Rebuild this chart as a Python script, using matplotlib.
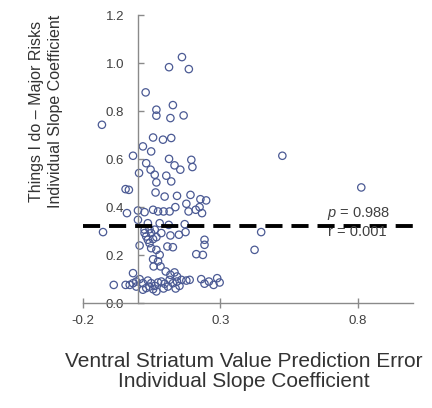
import numpy as np
import matplotlib
matplotlib.use("Agg")
import matplotlib.pyplot as plt

# ==========================================================
# Data: individual slope coefficients per subject
# ==========================================================

vs_slope = [
    0.160, 0.113, 0.185, 0.028, 0.127, 0.067, 0.067, 0.118, 0.166, -0.131,
    0.055, 0.091, 0.121, 0.018, 0.048, -0.018, 0.113, 0.194, 0.030, 0.133,
    0.154, 0.198, 0.046, 0.004, 0.061, 0.103, 0.067, 0.121, -0.045, -0.033,
    0.064, 0.097, 0.142, 0.191, 0.227, 0.248, 0.176, 0.136, 0.210, 0.224,
    0.233, -0.040, 0.000, 0.024, 0.055, 0.073, 0.093, 0.115, 0.184, 0.000,
    0.036, 0.079, 0.112, 0.170, -0.127, 0.024, 0.048, 0.085, 0.118, 0.149,
    0.173, 0.036, 0.055, 0.006, 0.107, 0.127, 0.242, 0.242, 0.067, 0.048,
    0.079, 0.212, 0.236, 0.055, 0.073, 0.082, 0.057, 0.448, 0.424, 0.525,
    0.812, -0.018, 0.101, 0.133, 0.142, 0.118, -0.088, -0.045, -0.030, -0.018,
    -0.006, 0.006, 0.018, 0.036, 0.048, 0.061, 0.073, 0.085, 0.097, 0.115,
    0.127, 0.142, 0.158, 0.176, 0.188, 0.230, 0.242, 0.258, 0.275, 0.288,
    0.297, 0.030, 0.055, 0.093, 0.137, 0.018, 0.067, -0.006, 0.042, 0.109,
    0.151, 0.024, 0.042, 0.061, 0.030, 0.067, 0.042,
]

risk_slope = [
    1.025, 0.983, 0.975, 0.878, 0.825, 0.806, 0.781, 0.771, 0.782, 0.743,
    0.690, 0.681, 0.688, 0.653, 0.632, 0.614, 0.601, 0.597, 0.583, 0.574,
    0.556, 0.567, 0.556, 0.542, 0.535, 0.531, 0.503, 0.507, 0.475, 0.472,
    0.461, 0.444, 0.447, 0.451, 0.433, 0.428, 0.414, 0.400, 0.389, 0.400,
    0.375, 0.375, 0.386, 0.379, 0.389, 0.382, 0.382, 0.382, 0.382, 0.347,
    0.333, 0.333, 0.326, 0.329, 0.296, 0.292, 0.292, 0.292, 0.282, 0.285,
    0.296, 0.264, 0.267, 0.240, 0.236, 0.233, 0.264, 0.243, 0.222, 0.229,
    0.201, 0.204, 0.201, 0.183, 0.174, 0.153, 0.153, 0.296, 0.222, 0.614,
    0.482, 0.125, 0.132, 0.128, 0.111, 0.118, 0.076, 0.076, 0.076, 0.083,
    0.090, 0.100, 0.083, 0.094, 0.083, 0.072, 0.086, 0.090, 0.081, 0.097,
    0.083, 0.090, 0.097, 0.094, 0.097, 0.100, 0.081, 0.090, 0.076, 0.104,
    0.086, 0.063, 0.058, 0.061, 0.061, 0.056, 0.049, 0.069, 0.069, 0.069,
    0.072, 0.306, 0.308, 0.306, 0.278, 0.275, 0.250,
]

fit_level = 0.32
p_value = 0.988
r_value = 0.001

x_ticks = [-0.2, 0.3, 0.8]
y_ticks = [0.0, 0.2, 0.4, 0.6, 0.8, 1.0, 1.2]

# ==========================================================
# Style
# ==========================================================

plt.rcParams["font.family"] = ["Liberation Sans", "DejaVu Sans"]
plt.rcParams["mathtext.fontset"] = "custom"
plt.rcParams["mathtext.it"] = "Liberation Sans:italic"
plt.rcParams["mathtext.rm"] = "Liberation Sans"

AXIS_GREY = "#8a8a8a"
TEXT_GREY = "#404040"

# ==========================================================
# Scatter Plot
# ==========================================================

fig = plt.figure(figsize=(4.32, 4.08), dpi=100)
ax = fig.add_axes([0.192, 0.257, 0.764, 0.706])

ax.scatter(
    vs_slope,
    risk_slope,
    s=28,
    facecolors="none",
    edgecolors="#4b5a94",
    linewidths=0.9,
    zorder=2,
)

ax.plot(
    [-0.2, 1.0],
    [fit_level, fit_level],
    color="black",
    linewidth=2.8,
    linestyle=(0, (4.4, 2.3)),
    zorder=3,
)

ax.text(0.687, 0.375, f"$p$ = {p_value:.3f}", fontsize=10.5,
        color=TEXT_GREY, va="center", ha="left")
ax.text(0.690, 0.296, f"r = {r_value:.3f}", fontsize=10.5,
        color=TEXT_GREY, va="center", ha="left")

ax.set_xlim(-0.2, 1.0)
ax.set_ylim(0.0, 1.2)

ax.spines["left"].set_position(("data", 0.0))
ax.spines["top"].set_visible(False)
ax.spines["right"].set_visible(False)
for side in ("left", "bottom"):
    ax.spines[side].set_color(AXIS_GREY)
    ax.spines[side].set_linewidth(1.0)

ax.set_xticks(x_ticks)
ax.set_xticklabels([f"{t:.1f}" for t in x_ticks])
ax.set_yticks(y_ticks)
ax.set_yticklabels([f"{t:.1f}" for t in y_ticks])

ax.tick_params(axis="x", direction="inout", length=7, width=1.0,
               color=AXIS_GREY, labelsize=9.5, labelcolor=TEXT_GREY, pad=5)
ax.tick_params(axis="y", direction="in", length=4, width=1.0,
               color=AXIS_GREY, labelsize=9.5, labelcolor=TEXT_GREY, pad=10)

fig.text(0.107, 0.726, "Things I do \u2013 Major Risks\nIndividual Slope Coefficient",
         rotation=90, ha="center", va="center", fontsize=11.5,
         color="#333333", linespacing=1.35)

fig.text(0.565, 0.089, "Ventral Striatum Value Prediction Error\nIndividual Slope Coefficient",
         ha="center", va="center", fontsize=15, color="#333333",
         linespacing=1.1)

fig.savefig("out.png", dpi=100)
plt.close(fig)
